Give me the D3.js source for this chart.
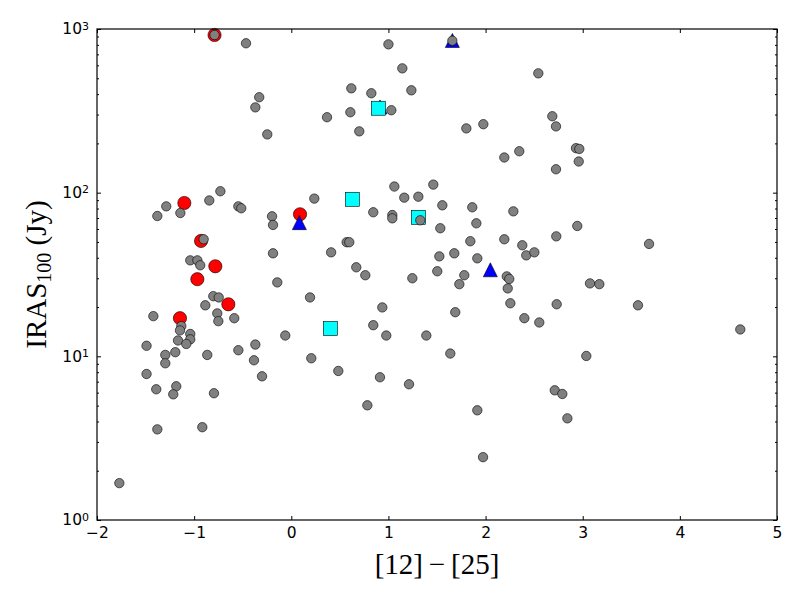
<!DOCTYPE html>
<html>
<head>
<meta charset="utf-8">
<script src="https://cdn.jsdelivr.net/npm/d3@7"></script>
<style>
  body { margin: 0; background: #fff; }
  svg { display: block; }
  .tick text { font-family: "DejaVu Sans", sans-serif; font-size: 15.5px; fill: #000; }
  .axis path { display: none; }
  .axis line { stroke: #000; stroke-width: 1; }
  .label { font-family: "Liberation Serif", "DejaVu Serif", serif; fill: #000; }
</style>
</head>
<body>
<div id="chart"></div>
<script>
'use strict';

// 軸の設定
const xTicks = [-2, -1, 0, 1, 2, 3, 4, 5];
const yMajorTicks = [1, 10, 100, 1000];
const yExponents = ['0', '1', '2', '3'];

// 全サンプル（灰色）[12]-[25], IRAS100
const allSample = [
  [-0.79, 919], [-0.466, 818], [-0.33, 383], [-0.37, 332], [-0.247, 227], [0.368, 289],
  [-0.73, 102], [-0.844, 89.6], [0.237, 92], [1.0, 806], [1.658, 848], [1.143, 575],
  [2.543, 536], [0.618, 434], [0.824, 405], [1.236, 422], [1.03, 319], [0.608, 310],
  [0.70, 237], [1.802, 247], [1.977, 262], [2.687, 293], [2.725, 254], [2.193, 164],
  [2.347, 179], [2.725, 139], [1.061, 109], [1.462, 112], [1.163, 93.2], [1.308, 94.5],
  [2.931, 187], [2.965, 185], [2.959, 155], [-1.287, 82.5], [-1.379, 72], [-1.142, 75.1],
  [-0.545, 82.5], [-0.515, 80.3], [-0.198, 71.7], [-0.188, 63.5], [-0.902, 51.9], [-0.188, 42.6],
  [0.41, 43.2], [-1.04, 38.6], [-0.967, 38.6], [-0.937, 36], [-0.144, 28.3], [0.193, 22.9],
  [-0.803, 23.3], [-0.747, 22.9], [-0.885, 20.5], [-0.762, 18.3], [-0.751, 16.4], [-0.587, 17.1],
  [-1.42, 17.6], [-1.132, 15.3], [-1.146, 14.4], [-1.04, 13.7], [-1.04, 12.7], [-1.166, 12.5],
  [-1.081, 11.9], [-1.49, 11.6], [-0.062, 13.4], [-0.37, 11.8], [-0.545, 10.9], [-1.194, 10.6],
  [-1.297, 10.2], [-1.297, 9.07], [-0.865, 10.2], [-0.384, 9.46], [0.206, 9.73], [0.844, 75.9],
  [1.04, 73], [1.04, 69.7], [1.328, 67.8], [1.555, 83.7], [1.863, 81.4], [2.286, 76.9],
  [1.905, 65], [1.534, 60.6], [0.57, 49.8], [0.597, 49.8], [1.843, 50.5], [2.193, 51.9],
  [2.378, 47.7], [2.419, 41.4], [2.502, 43.2], [2.728, 54.1], [1.524, 40.8], [1.678, 42.6],
  [1.915, 39.7], [0.669, 35], [0.762, 31.3], [1.246, 30], [1.503, 33.1], [1.781, 31.3],
  [1.73, 27.6], [2.218, 30.8], [2.244, 29.7], [2.228, 26], [2.255, 21.1], [2.732, 20.8],
  [0.937, 19.9], [1.688, 18.6], [2.399, 17.1], [2.553, 16.1], [0.844, 15.5], [0.978, 13.4],
  [1.39, 13.4], [1.637, 10.4], [0.484, 8.14], [2.944, 62.6], [3.683, 48.6], [3.075, 27.9],
  [3.171, 27.6], [3.569, 20.5], [4.622, 14.6], [3.037, 10.05], [-1.49, 7.8], [-1.39, 6.29],
  [-1.184, 6.56], [-1.215, 5.86], [-0.796, 5.95], [-0.301, 7.55], [-1.379, 3.58], [-0.916, 3.69],
  [-1.77, 1.68], [0.913, 7.45], [1.212, 6.75], [0.783, 5.02], [1.915, 4.68], [1.974, 2.42],
  [2.712, 6.2], [2.79, 5.89], [2.842, 4.18]
];

// 赤丸
const redSample = [
  [-0.79, 919], [-1.101, 86.5], [0.09, 73.8], [-0.929, 50.7],
  [-0.782, 35.5], [-0.967, 29.6], [-0.648, 20.8], [-1.146, 17.1]
];

// 青三角
const blueSample = [[1.658, 851], [0.083, 65.6], [2.049, 33.8], [0.913, 334]];

// シアン四角
const cyanSample = [[0.896, 328], [0.628, 91.1], [1.308, 70.7], [0.402, 14.8]];

const width = 800;
const height = 600;
const margin = { top: 29, right: 23, bottom: 80, left: 97 };
const innerW = width - margin.left - margin.right;
const innerH = height - margin.top - margin.bottom;

const x = d3.scaleLinear().domain([-2, 5]).range([0, innerW]);
const y = d3.scaleLog().domain([1, 1000]).range([innerH, 0]);

const svg = d3.select('#chart')
  .append('svg')
  .attr('width', width)
  .attr('height', height);

const g = svg.append('g')
  .attr('transform', `translate(${margin.left},${margin.top})`);

// 点を描く（赤→青→シアン→灰の順）
g.append('g').selectAll('circle')
  .data(redSample)
  .enter()
  .append('circle')
  .attr('cx', d => x(d[0]))
  .attr('cy', d => y(d[1]))
  .attr('r', 6.6)
  .attr('fill', '#ff0000')
  .attr('stroke', '#000')
  .attr('stroke-width', 0.6);

const tri = 7;
g.append('g').selectAll('path')
  .data(blueSample)
  .enter()
  .append('path')
  .attr('transform', d => `translate(${x(d[0])},${y(d[1])})`)
  .attr('d', `M0,${-tri}L${tri},${tri}L${-tri},${tri}Z`)
  .attr('fill', '#0000ff')
  .attr('stroke', '#000')
  .attr('stroke-width', 0.6);

const sq = 7;
g.append('g').selectAll('rect')
  .data(cyanSample)
  .enter()
  .append('rect')
  .attr('x', d => x(d[0]) - sq)
  .attr('y', d => y(d[1]) - sq)
  .attr('width', sq * 2)
  .attr('height', sq * 2)
  .attr('fill', '#00ffff')
  .attr('stroke', '#000')
  .attr('stroke-width', 0.6);

g.append('g').selectAll('circle')
  .data(allSample)
  .enter()
  .append('circle')
  .attr('cx', d => x(d[0]))
  .attr('cy', d => y(d[1]))
  .attr('r', 4.7)
  .attr('fill', '#808080')
  .attr('stroke', '#000')
  .attr('stroke-width', 0.6);

// 副目盛り（2〜9）
const yMinorTicks = y.ticks().filter(v => !yMajorTicks.includes(v));

// 軸（目盛りは内向き）
g.append('g')
  .attr('class', 'axis')
  .attr('transform', `translate(0,${innerH})`)
  .call(d3.axisBottom(x).tickValues(xTicks).tickSize(-4).tickPadding(7)
    .tickFormat(d => d < 0 ? '\u2212' + Math.abs(d) : d));
g.append('g')
  .attr('class', 'axis')
  .call(d3.axisTop(x).tickValues(xTicks).tickSize(-4).tickFormat(''));

const yLeft = g.append('g')
  .attr('class', 'axis')
  .call(d3.axisLeft(y).tickValues(yMajorTicks).tickSize(-4).tickPadding(8).tickFormat(''));
yLeft.selectAll('.tick text')
  .attr('dy', '0.32em')
  .each(function (d, i) {
    const t = d3.select(this);
    t.append('tspan').text('10');
    t.append('tspan')
      .attr('dy', '-0.45em')
      .attr('font-size', '11px')
      .text(yExponents[i]);
  });
g.append('g')
  .attr('class', 'axis')
  .call(d3.axisLeft(y).tickValues(yMinorTicks).tickSize(-2).tickFormat(''));
g.append('g')
  .attr('class', 'axis')
  .attr('transform', `translate(${innerW},0)`)
  .call(d3.axisRight(y).tickValues(yMajorTicks).tickSize(-4).tickFormat(''));
g.append('g')
  .attr('class', 'axis')
  .attr('transform', `translate(${innerW},0)`)
  .call(d3.axisRight(y).tickValues(yMinorTicks).tickSize(-2).tickFormat(''));

// 枠
g.append('rect')
  .attr('width', innerW)
  .attr('height', innerH)
  .attr('fill', 'none')
  .attr('stroke', '#000')
  .attr('stroke-width', 1.2);

// 軸ラベル
const xLabel = svg.append('text')
  .attr('class', 'label')
  .attr('x', margin.left + innerW / 2)
  .attr('y', 574)
  .attr('text-anchor', 'middle')
  .attr('font-size', '29px');
xLabel.append('tspan').text('[12]');
xLabel.append('tspan').attr('dx', '0.2em').text('\u2212');
xLabel.append('tspan').attr('dx', '0.2em').text('[25]');

const yLabel = svg.append('text')
  .attr('class', 'label')
  .attr('transform', `translate(46,${margin.top + innerH / 2}) rotate(-90)`)
  .attr('text-anchor', 'middle')
  .attr('font-size', '29px');
yLabel.append('tspan').text('IRAS');
yLabel.append('tspan').attr('font-size', '20px').attr('dy', '0.25em').text('100');
yLabel.append('tspan').attr('dy', '-0.17em').text(' (Jy)');
</script>
</body>
</html>
